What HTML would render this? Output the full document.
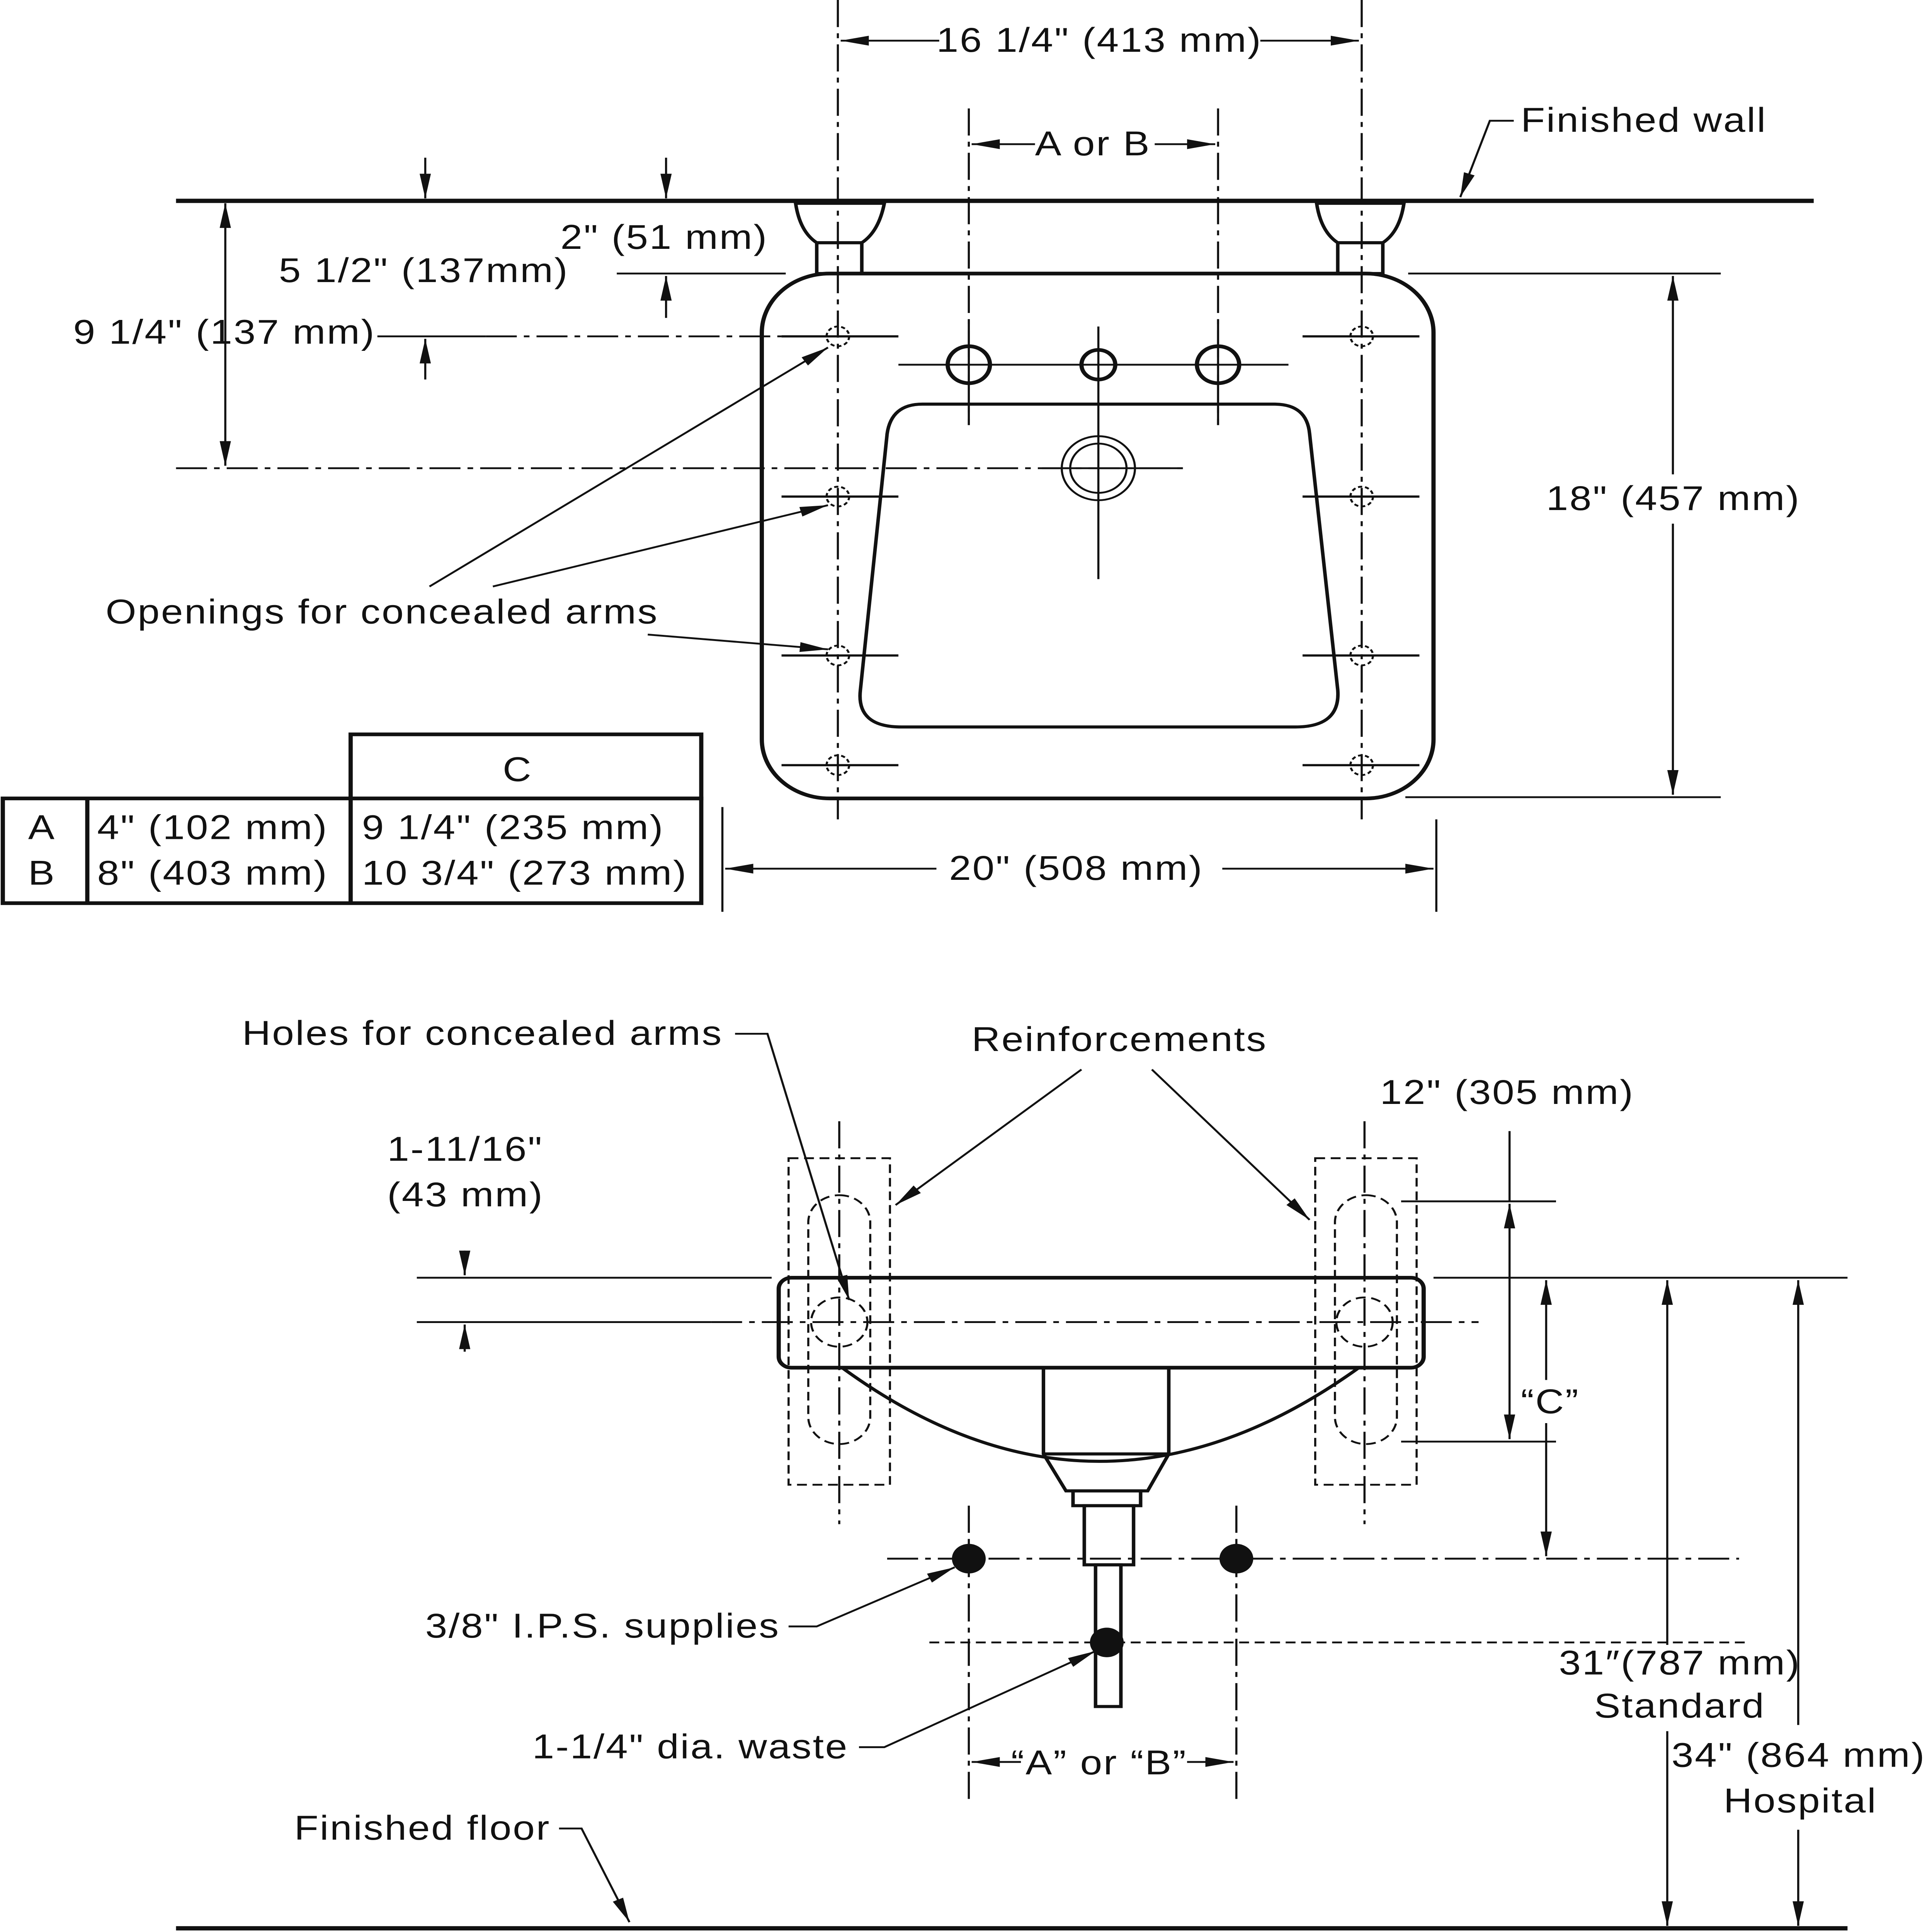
<!DOCTYPE html>
<html><head><meta charset="utf-8"><style>
html,body{margin:0;padding:0;background:#fff;width:100%;height:100%;overflow:hidden}
svg{display:block;position:fixed;left:0;top:0;width:100vw;height:100vh}
text{font-family:"Liberation Sans",sans-serif;font-size:28px;letter-spacing:1px;fill:#111}
</style></head><body>
<svg viewBox="0 0 1372 1568" preserveAspectRatio="none" xmlns="http://www.w3.org/2000/svg">
<defs>
<marker id="a" viewBox="0 0 20 10" refX="20" refY="5" markerWidth="20" markerHeight="10" markerUnits="userSpaceOnUse" orient="auto-start-reverse"><path d="M0,1 L20,5 L0,9 Z" fill="#111"/></marker>
</defs>
<g stroke="#111" fill="none" stroke-width="1.5">
<line x1="125" y1="163" x2="1288" y2="163" stroke-width="3.5"/>
<g stroke-dasharray="22,5,4,5">
<line x1="595" y1="0" x2="595" y2="665"/><line x1="967" y1="0" x2="967" y2="665"/>
<line x1="688" y1="88" x2="688" y2="345"/><line x1="865" y1="88" x2="865" y2="345"/>
<line x1="125" y1="380" x2="840" y2="380"/>
<line x1="345" y1="273" x2="555" y2="273"/>
</g>
<line x1="597" y1="33" x2="667" y2="33" marker-start="url(#a)"/><line x1="895" y1="33" x2="965" y2="33" marker-end="url(#a)"/>
<line x1="690" y1="117" x2="735" y2="117" marker-start="url(#a)"/><line x1="820" y1="117" x2="863" y2="117" marker-end="url(#a)"/>
<polyline points="1075,98 1058,98 1037,160" marker-end="url(#a)"/>
<path d="M565,165 L628,165 Q624,188 612,197 L580,197 Q568,188 565,165 Z" stroke-width="2.5"/>
<rect x="580" y="197" width="32" height="25" stroke-width="2.5"/>
<path d="M935,165 L997,165 Q994,188 982,197 L950,197 Q938,188 935,165 Z" stroke-width="2.5"/>
<rect x="950" y="197" width="32" height="25" stroke-width="2.5"/>
<rect x="541" y="222" width="477" height="426" rx="48" stroke-width="3"/>
<path d="M655,328 L905,328 Q928,328 930,352 L950,560 Q952,590 920,590 L640,590 Q608,590 611,560 L630,352 Q633,328 655,328 Z" stroke-width="2.5"/>
<line x1="638" y1="296" x2="915" y2="296"/>
<line x1="688" y1="260" x2="688" y2="345"/><line x1="780" y1="265" x2="780" y2="470"/><line x1="865" y1="260" x2="865" y2="345"/>
<circle cx="688" cy="296" r="15" stroke-width="3"/><circle cx="780" cy="296" r="12" stroke-width="3"/><circle cx="865" cy="296" r="15" stroke-width="3"/>
<circle cx="780" cy="380" r="26"/><circle cx="780" cy="380" r="20"/>
<line x1="740" y1="380" x2="840" y2="380"/>
<g stroke-width="1.8">
<line x1="555" y1="273" x2="638" y2="273"/><line x1="925" y1="273" x2="1008" y2="273"/>
<line x1="555" y1="403" x2="638" y2="403"/><line x1="925" y1="403" x2="1008" y2="403"/>
<line x1="555" y1="532" x2="638" y2="532"/><line x1="925" y1="532" x2="1008" y2="532"/>
<line x1="555" y1="621" x2="638" y2="621"/><line x1="925" y1="621" x2="1008" y2="621"/>
</g>
<g stroke-dasharray="3,2">
<circle cx="595" cy="273" r="8"/><circle cx="967" cy="273" r="8"/><circle cx="595" cy="403" r="8"/><circle cx="967" cy="403" r="8"/>
<circle cx="595" cy="532" r="8"/><circle cx="967" cy="532" r="8"/><circle cx="595" cy="621" r="8"/><circle cx="967" cy="621" r="8"/>
</g>
<line x1="160" y1="165" x2="160" y2="378" marker-start="url(#a)" marker-end="url(#a)"/>
<line x1="268" y1="273" x2="345" y2="273"/>
<line x1="473" y1="128" x2="473" y2="161" marker-end="url(#a)"/>
<line x1="473" y1="258" x2="473" y2="224" marker-end="url(#a)"/>
<line x1="438" y1="222" x2="558" y2="222"/>
<line x1="302" y1="128" x2="302" y2="161" marker-end="url(#a)"/>
<line x1="302" y1="308" x2="302" y2="275" marker-end="url(#a)"/>
<line x1="1000" y1="222" x2="1222" y2="222"/><line x1="998" y1="647" x2="1222" y2="647"/>
<line x1="1188" y1="224" x2="1188" y2="385" marker-start="url(#a)"/><line x1="1188" y1="425" x2="1188" y2="645" marker-end="url(#a)"/>
<line x1="513" y1="655" x2="513" y2="740"/><line x1="1020" y1="665" x2="1020" y2="740"/>
<line x1="515" y1="705" x2="665" y2="705" marker-start="url(#a)"/><line x1="868" y1="705" x2="1018" y2="705" marker-end="url(#a)"/>
<line x1="305" y1="476" x2="588" y2="282" marker-end="url(#a)"/>
<line x1="350" y1="476" x2="588" y2="410" marker-end="url(#a)"/>
<line x1="460" y1="515" x2="588" y2="527" marker-end="url(#a)"/>
<g stroke-width="3">
<rect x="2" y="648" width="496" height="85"/><rect x="249" y="596" width="249" height="52"/>
<line x1="62" y1="648" x2="62" y2="733"/><line x1="249" y1="648" x2="249" y2="733"/>
</g>
<g stroke-dasharray="7,4">
<rect x="560" y="940" width="72" height="265"/><rect x="934" y="940" width="72" height="265"/>
<rect x="574" y="970" width="44" height="202" rx="22"/><rect x="948" y="970" width="44" height="202" rx="22"/>
<circle cx="596" cy="1073" r="20"/><circle cx="969" cy="1073" r="20"/>
<line x1="660" y1="1333" x2="1240" y2="1333"/>
</g>
<g stroke-dasharray="22,5,4,5">
<line x1="596" y1="910" x2="596" y2="1237"/><line x1="969" y1="910" x2="969" y2="1237"/>
<line x1="505" y1="1073" x2="1050" y2="1073"/>
<line x1="630" y1="1265" x2="1235" y2="1265"/>
<line x1="688" y1="1222" x2="688" y2="1465"/><line x1="878" y1="1222" x2="878" y2="1465"/>
</g>
<line x1="296" y1="1073" x2="505" y2="1073"/>
<path d="M598,1110 Q780,1262 965,1110" stroke-width="2.5"/>
<rect x="553" y="1037" width="458" height="73" rx="9" stroke-width="3"/>
<path d="M741,1110 L741,1180 L757,1210 L815,1210 L830,1180 L830,1110" stroke-width="2.5"/>
<line x1="741" y1="1180" x2="830" y2="1180" stroke-width="2.5"/>
<rect x="762" y="1210" width="48" height="12" stroke-width="2.5"/>
<rect x="770" y="1222" width="35" height="48" stroke-width="2.5"/>
<rect x="778" y="1270" width="18" height="115" stroke-width="2.5"/>
<line x1="296" y1="1037" x2="548" y2="1037"/><line x1="1018" y1="1037" x2="1312" y2="1037"/>
<line x1="330" y1="1015" x2="330" y2="1035" marker-end="url(#a)"/>
<line x1="330" y1="1097" x2="330" y2="1075" marker-end="url(#a)"/>
<line x1="768" y1="868" x2="636" y2="978" marker-end="url(#a)"/>
<line x1="818" y1="868" x2="930" y2="990" marker-end="url(#a)"/>
<polyline points="522,839 545,839 603,1055" marker-end="url(#a)"/>
<line x1="995" y1="975" x2="1105" y2="975"/><line x1="995" y1="1170" x2="1105" y2="1170"/>
<line x1="1072" y1="918" x2="1072" y2="975"/>
<line x1="1072" y1="977" x2="1072" y2="1168" marker-start="url(#a)" marker-end="url(#a)"/>
<line x1="1098" y1="1039" x2="1098" y2="1120" marker-start="url(#a)"/><line x1="1098" y1="1155" x2="1098" y2="1263" marker-end="url(#a)"/>
<line x1="1184" y1="1039" x2="1184" y2="1335" marker-start="url(#a)"/><line x1="1184" y1="1405" x2="1184" y2="1563" marker-end="url(#a)"/>
<line x1="1277" y1="1039" x2="1277" y2="1400" marker-start="url(#a)"/><line x1="1277" y1="1485" x2="1277" y2="1563" marker-end="url(#a)"/>
<line x1="690" y1="1430" x2="725" y2="1430" marker-start="url(#a)"/><line x1="843" y1="1430" x2="876" y2="1430" marker-end="url(#a)"/>
<polyline points="560,1320 580,1320 678,1272" marker-end="url(#a)"/>
<polyline points="610,1418 628,1418 778,1340" marker-end="url(#a)"/>
<polyline points="397,1484 413,1484 447,1560" marker-end="url(#a)"/>
<line x1="125" y1="1565" x2="1312" y2="1565" stroke-width="3.5"/>
</g>
<g fill="#111">
<circle cx="688" cy="1265" r="12"/><circle cx="878" cy="1265" r="12"/><circle cx="786" cy="1333" r="12"/>
</g>
<text x="665" y="42">16 1/4" (413 mm)</text>
<text x="735" y="126">A or B</text>
<text x="1080" y="107">Finished wall</text>
<text x="398" y="202">2" (51 mm)</text>
<text x="198" y="229">5 1/2" (137mm)</text>
<text x="52" y="279">9 1/4" (137 mm)</text>
<text x="1098" y="414">18" (457 mm)</text>
<text x="75" y="506">Openings for concealed arms</text>
<text x="674" y="714">20" (508 mm)</text>
<text x="357" y="634">C</text>
<text x="20" y="681">A</text><text x="20" y="718">B</text>
<text x="69" y="681">4" (102 mm)</text><text x="69" y="718">8" (403 mm)</text>
<text x="257" y="681">9 1/4" (235 mm)</text><text x="257" y="718">10 3/4" (273 mm)</text>
<text x="172" y="848">Holes for concealed arms</text>
<text x="690" y="853">Reinforcements</text>
<text x="980" y="896">12" (305 mm)</text>
<text x="275" y="942">1-11/16"</text>
<text x="275" y="979">(43 mm)</text>
<text x="1080" y="1147">“C”</text>
<text x="302" y="1329">3/8" I.P.S. supplies</text>
<text x="1107" y="1359">31″(787 mm)</text>
<text x="1132" y="1394">Standard</text>
<text x="378" y="1427">1-1/4" dia. waste</text>
<text x="1187" y="1434">34" (864 mm)</text>
<text x="1224" y="1471">Hospital</text>
<text x="718" y="1440">“A” or “B”</text>
<text x="209" y="1493">Finished floor</text>
</svg>
</body></html>
